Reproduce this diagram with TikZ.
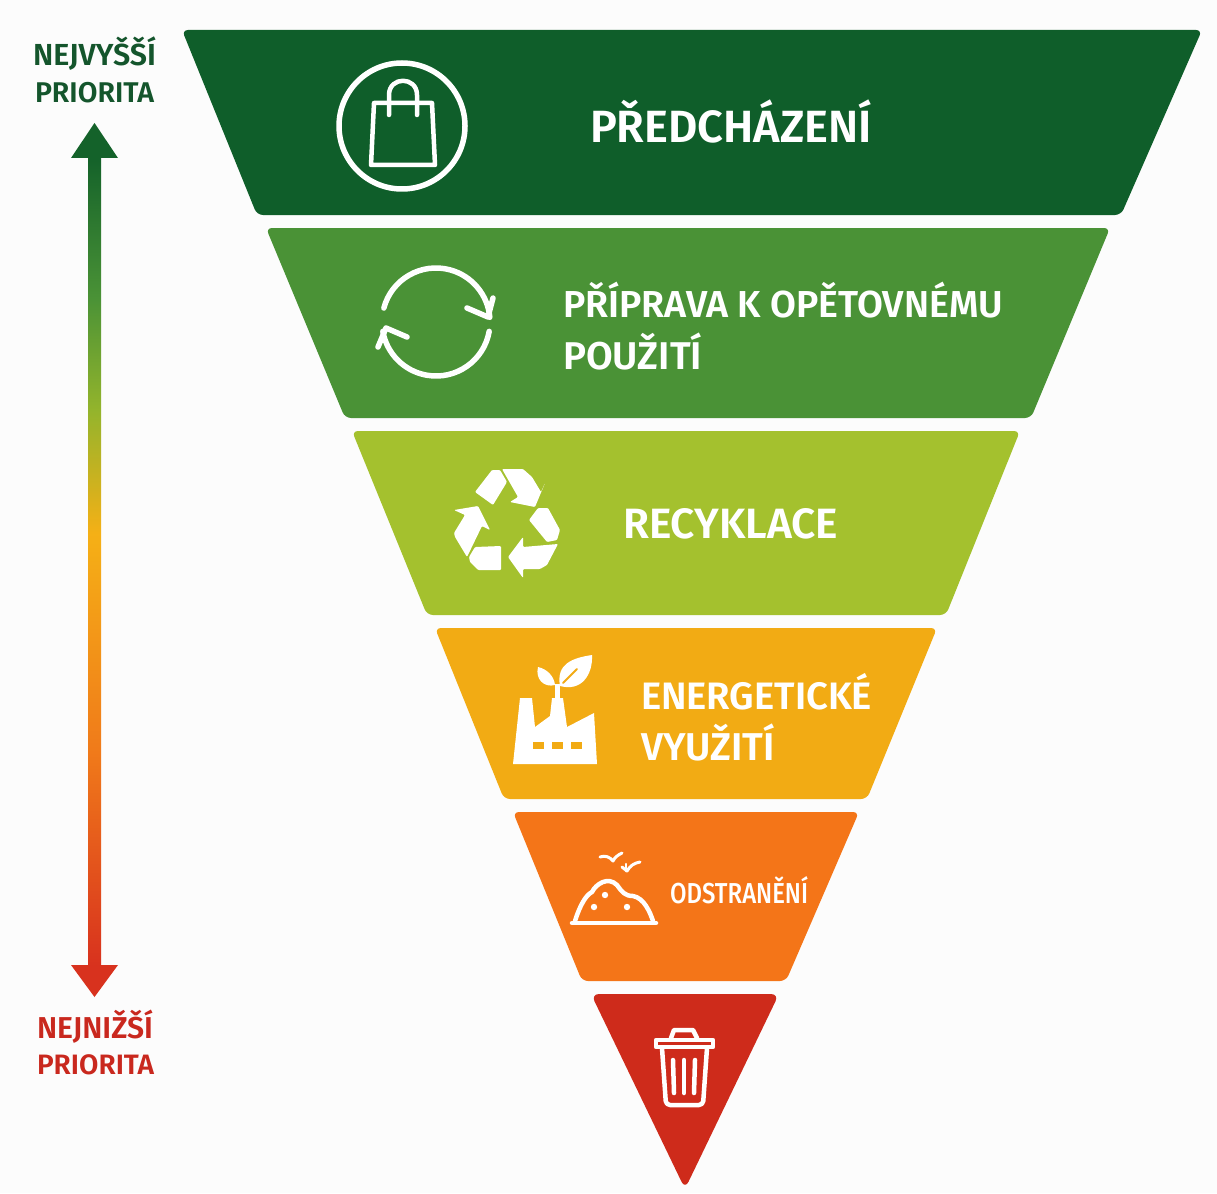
\documentclass[tikz,border=0pt]{standalone}
\usepackage{graphicx}
\usepackage{fontspec}
\setmainfont{Fira Sans}[BoldFont={Fira Sans SemiBold}]
\newfontfamily\medfont{Fira Sans Medium}
\definecolor{bA}{HTML}{0F5E2A}
\definecolor{bB}{HTML}{4A9236}
\definecolor{bC}{HTML}{A4C12E}
\definecolor{bD}{HTML}{F2AB14}
\definecolor{bE}{HTML}{F47518}
\definecolor{bF}{HTML}{CE2B1B}
\definecolor{lblG}{HTML}{14552C}
\definecolor{lblR}{HTML}{C9281E}
\definecolor{pgA}{HTML}{14622A}
\definecolor{pgB}{HTML}{4A9236}
\definecolor{pgC}{HTML}{93B42C}
\definecolor{pgD}{HTML}{F5B016}
\definecolor{pgE}{HTML}{F07A1A}
\definecolor{pgF}{HTML}{D8321E}
\pgfdeclareverticalshading{prio}{100bp}{%
 color(0bp)=(pgF); color(26.8bp)=(pgF); color(39bp)=(pgE); color(51.5bp)=(pgD);
 color(58.6bp)=(pgC); color(65bp)=(pgB); color(73bp)=(pgA); color(100bp)=(pgA)}
\newcommand{\fitw}[2]{\resizebox{#1pt}{!}{\bfseries\strut #2}}
\tikzset{
  band/.style={rounded corners=6pt},
  lbl/.style={anchor=base west,inner sep=0pt,outer sep=0pt,text=white},
  side/.style={anchor=base west,inner sep=0pt,outer sep=0pt},
  ico/.style={draw=white,line cap=round,line join=round,fill=none},
  solidico/.style={fill=white,rounded corners=1pt}
}
\begin{document}
\begin{tikzpicture}[x=1pt,y=-1pt]
\useasboundingbox (0,0) rectangle (1217,1193);
\fill[white!99!black] (0,0) rectangle (1217,1193);
% bands
\fill[band,bA] (182,30) -- (1202,30) -- (1121,215) -- (257,215) -- cycle;
\fill[band,bB] (266,228) -- (1110,228) -- (1031,418) -- (345,418) -- cycle;
\fill[band,bC] (352,431) -- (1020,431) -- (946,615) -- (427,615) -- cycle;
\fill[band,bD] (435,628) -- (937,628) -- (867,799) -- (504,799) -- cycle;
\fill[band,bE] (513,812) -- (859,812) -- (786,981) -- (582,981) -- cycle;
\fill[rounded corners=8pt,bF] (591,994) -- (779,994) -- (685,1189) -- cycle;
% priority arrow
\shade[shading=prio] (94.5,123) -- (118,158) -- (101,158) -- (101,965) -- (118,965) -- (94.5,997) -- (71,965) -- (88,965) -- (88,158) -- (71,158) -- cycle;
% side labels
\node[side,text=lblG] (topa) at (33,66) {\fitw{123}{NEJVYŠŠÍ}};
\node[side,text=lblG] (topb) at (35,103) {\fitw{119}{PRIORITA}};
\node[side,text=lblR] (bota) at (37,1038) {\fitw{116}{NEJNIŽŠÍ}};
\node[side,text=lblR] (botb) at (37,1074) {\fitw{117}{PRIORITA}};
% band labels
\node[lbl] (t1) at (590,143) {\fitw{282}{PŘEDCHÁZENÍ}};
\node[lbl] (t2a) at (563,317) {\fitw{440}{PŘÍPRAVA K OPĚTOVNÉMU}};
\node[lbl] (t2b) at (563,369) {\fitw{139}{POUŽITÍ}};
\node[lbl] (t3) at (623,538) {\fitw{215}{RECYKLACE}};
\node[lbl] (t4a) at (641,709) {\fitw{231}{ENERGETICKÉ}};
\node[lbl] (t4b) at (641,760) {\fitw{134}{VYUŽITÍ}};
\node[lbl] (t5) at (670,903) {\resizebox{138pt}{27pt}{\medfont ODSTRANĚNÍ}};
% bag icon
\draw[ico,line width=5.5pt] (402,126) circle (63);
\draw[ico,line width=4.5pt] (374,103) -- (432,103) -- (435,165) -- (371,165) -- cycle;
\draw[ico,line width=4.5pt] (389,115) -- (389,95) .. controls (389,76) and (417,76) .. (417,95) -- (417,115);
% cycle icon
\draw[ico,line width=5.5pt] (436,322) ++(195:54) arc (195:355:54);
\draw[ico,line width=5.5pt] (467,308) -- (488,317) -- (493,298);
\draw[ico,line width=5.5pt] (436,322) ++(10:54) arc (10:170:54);
\draw[ico,line width=5.5pt] (407,337) -- (386,328) -- (378,347);
% recycle icon
\fill[solidico] (475,492) -- (492,470) -- (500,470) -- (507,482) -- (493,505) -- cycle;
\fill[solidico] (502,469) -- (523,469) -- (532,477) -- (541,492) -- (545,483) -- (535,507) -- (510,502) -- (518,497) -- cycle;
\fill[solidico] (529,520) -- (538,508) -- (548,508) -- (560,530) -- (557,540) -- (547,542) -- cycle;
\fill[solidico] (558,544) -- (547,565) -- (540,569) -- (523,569) -- (523,578) -- (508,557) -- (523,537) -- (523,547) -- cycle;
\fill[solidico] (469,557) -- (475,547) -- (501,546) -- (501,570) -- (478,570) -- (470,562) -- cycle;
\fill[solidico] (454,510) -- (478,506) -- (490,530) -- (482,526) -- (467,557) -- (455,537) -- (454,533) -- (465,515) -- cycle;
% factory icon
\fill[white] (513,764) -- (520,698) -- (532,698) -- (535,727) -- (550,716) -- (552,698) -- (563,698) -- (567,727) -- (594,713) -- (597,764) -- cycle;
\fill[bD] (533,742) rectangle (544,749);
\fill[bD] (552,742) rectangle (563,749);
\fill[bD] (571,742) rectangle (582,749);
\draw[ico,line width=5pt,line cap=butt] (557,698) -- (557,684);
\fill[white] (555,685) .. controls (554,676) and (547,669) .. (538,667) .. controls (535,679) and (544,688) .. (555,685) -- cycle;
\fill[white] (560,686) .. controls (556,664) and (572,658) .. (592,655) .. controls (593,674) and (582,692) .. (560,686) -- cycle;
\draw[draw=bD,line width=2pt,line cap=round] (563,683) -- (577,669);
% landfill icon
\draw[ico,line width=4.5pt] (572,923) -- (656,923);
\draw[ico,line width=4.5pt] (575,921) .. controls (580,905) and (586,895) .. (592,892) .. controls (596,884) and (608,876) .. (617,885) .. controls (622,892) and (625,896) .. (633,896) .. controls (644,898) and (650,912) .. (653,921);
\fill[white] (605,895) circle (3.2) (594,907) circle (3.2) (627,907) circle (3.2);
\draw[ico,line width=3pt] (600,857) .. controls (605,855) and (610,857) .. (613,861) .. controls (615,857) and (618,855) .. (622,853);
\draw[ico,line width=3pt] (622,867) -- (627,871) .. controls (630,866) and (634,863) .. (640,862);
\draw[ico,line width=2.5pt] (626,871) -- (626,864);
% trash icon
\draw[ico,line width=4.5pt] (656,1040) -- (713,1040) -- (713,1047) -- (656,1047) -- cycle;
\draw[ico,line width=4.5pt] (671,1038) -- (674,1030) -- (693,1030) -- (697,1038);
\draw[ico,line width=4.5pt,rounded corners=4pt] (662,1048) -- (666,1105) -- (703,1105) -- (707,1048);
\draw[ico,line width=4.5pt] (673,1060) -- (674,1093);
\draw[ico,line width=4.5pt] (684,1060) -- (684,1093);
\draw[ico,line width=4.5pt] (695,1060) -- (694,1093);
\end{tikzpicture}
\end{document}
